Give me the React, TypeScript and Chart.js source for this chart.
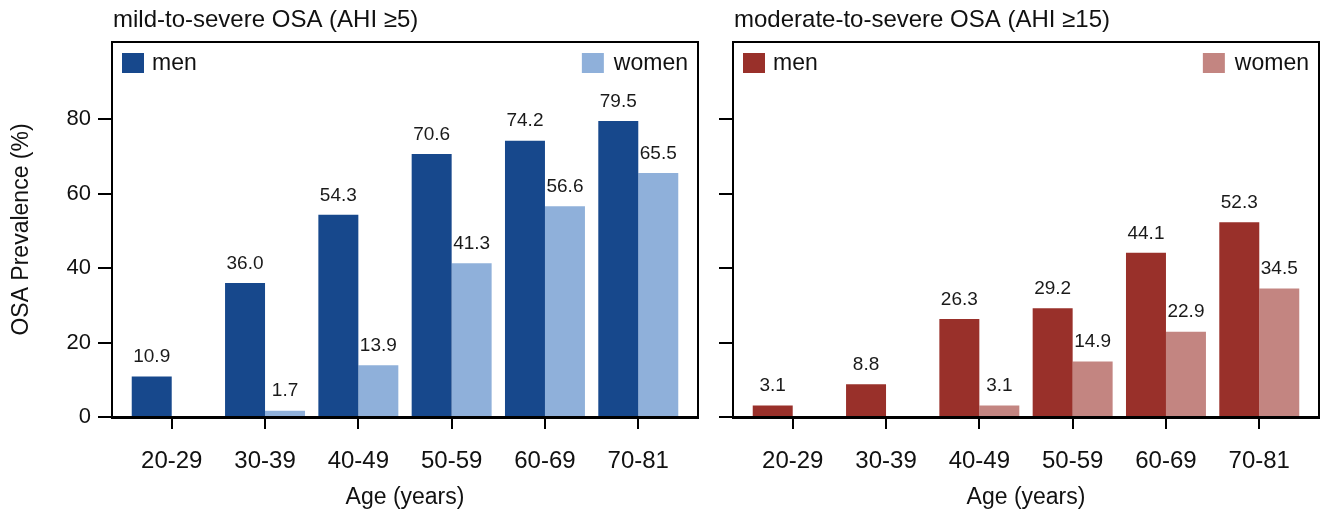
import { useEffect, useRef } from "react";
import { Chart, registerables } from "chart.js";

Chart.register(...registerables);

const FONT = '"Liberation Sans", Arial, sans-serif';

const categories = ["20-29", "30-39", "40-49", "50-59", "60-69", "70-81"];
const seriesLabels = ["men", "women"];
const mildMen: (number | null)[] = [10.9, 36.0, 54.3, 70.6, 74.2, 79.5];
const mildWomen: (number | null)[] = [null, 1.7, 13.9, 41.3, 56.6, 65.5];
const modMen: (number | null)[] = [3.1, 8.8, 26.3, 29.2, 44.1, 52.3];
const modWomen: (number | null)[] = [null, null, 3.1, 14.9, 22.9, 34.5];
const yTickValues = [0, 20, 40, 60, 80];
const mildTitle = "mild-to-severe OSA (AHI \u22655)";
const modTitle = "moderate-to-severe OSA (AHI \u226515)";
const yAxisTitle = "OSA Prevalence (%)";
const xAxisTitle = "Age (years)";

const decorPlugin = {
  id: "panelDecor",
  afterDraw(chart: any) {
    const { ctx, chartArea: a } = chart;
    const o = chart.options.plugins.panelDecor;
    ctx.save();
    // box top and right edges
    ctx.strokeStyle = "#000";
    ctx.lineWidth = 2;
    ctx.beginPath();
    ctx.moveTo(a.left - 1, a.top);
    ctx.lineTo(a.right, a.top);
    ctx.lineTo(a.right, a.bottom + 1);
    ctx.stroke();

    // value labels
    ctx.fillStyle = "#1a1a1a";
    ctx.font = `19px ${FONT}`;
    ctx.textAlign = "center";
    ctx.textBaseline = "bottom";
    chart.data.datasets.forEach((ds: any, di: number) => {
      const meta = chart.getDatasetMeta(di);
      meta.data.forEach((el: any, i: number) => {
        const v = ds.data[i].y;
        if (v == null) return;
        ctx.fillText(v.toFixed(1), el.x, el.y - 10);
      });
    });

    // legend
    ctx.font = `23px ${FONT}`;
    ctx.textBaseline = "middle";
    const ly = a.top + 21;
    const d0 = chart.data.datasets[0];
    const d1 = chart.data.datasets[1];
    ctx.fillStyle = d0.backgroundColor;
    ctx.fillRect(a.left + 10, ly - 10, 22, 20);
    ctx.fillStyle = "#111";
    ctx.textAlign = "left";
    ctx.fillText(d0.label, a.left + 40, ly + 1);
    ctx.textAlign = "right";
    const tr = a.right - 10;
    ctx.fillText(d1.label, tr, ly + 1);
    const tw = ctx.measureText(d1.label).width;
    ctx.fillStyle = d1.backgroundColor;
    ctx.fillRect(tr - tw - 10 - 22, ly - 10, 22, 20);

    // panel title
    ctx.fillStyle = "#111";
    ctx.font = `24px ${FONT}`;
    ctx.textAlign = "left";
    ctx.textBaseline = "middle";
    ctx.fillText(o.title, a.left + 1, 20);
    ctx.restore();
  },
};

type PanelProps = {
  title: string;
  men: (number | null)[];
  women: (number | null)[];
  menColor: string;
  womenColor: string;
  showYLabels: boolean;
  width: number;
  left: number;
  yAxisWidth: number;
  rightPad: number;
};

function Panel(p: PanelProps) {
  const ref = useRef<HTMLCanvasElement | null>(null);
  useEffect(() => {
    if (!ref.current) return;
    const chart = new Chart(ref.current, {
      type: "bar",
      data: {
        datasets: [
          {
            label: seriesLabels[0],
            data: p.men.map((v, i) => ({ x: i, y: v })) as any,
            backgroundColor: p.menColor,
            borderWidth: 0,
            categoryPercentage: 0.857,
            barPercentage: 1,
          },
          {
            label: seriesLabels[1],
            data: p.women.map((v, i) => ({ x: i, y: v })) as any,
            backgroundColor: p.womenColor,
            borderWidth: 0,
            categoryPercentage: 0.857,
            barPercentage: 1,
          },
        ],
      },
      plugins: [decorPlugin as any],
      options: {
        responsive: false,
        animation: false,
        devicePixelRatio: 1,
        layout: { padding: { left: 0, top: 42, right: p.rightPad, bottom: 0 } },
        plugins: {
          legend: { display: false },
          tooltip: { enabled: false },
          title: { display: false },
          panelDecor: { title: p.title },
        } as any,
        scales: {
          x: {
            type: "linear",
            min: -0.64,
            max: 5.64,
            offset: false,
            bounds: "data",
            z: 1,
            afterBuildTicks: (s: any) => {
              s.ticks = categories.map((_, i) => ({ value: i }));
            },
            afterFit: (s: any) => {
              s.height = 98;
            },
            grid: {
              offset: false,
              drawOnChartArea: false,
              drawTicks: true,
              tickLength: 12,
              tickWidth: 2,
              tickColor: "#000",
              color: "#000",
              lineWidth: 2,
            },
            border: { display: true, color: "#000", width: 3 },
            ticks: {
              autoSkip: false,
              maxRotation: 0,
              padding: 18,
              color: "#111",
              font: { family: FONT, size: 24 },
              callback: (v: any) => categories[Math.round(Number(v))] ?? "",
            },
            title: {
              display: true,
              text: xAxisTitle,
              color: "#111",
              font: { family: FONT, size: 23 },
              padding: { top: 0, bottom: 4 },
            },
          },
          y: {
            type: "linear",
            min: 0,
            max: 100.7,
            afterBuildTicks: (s: any) => {
              s.ticks = yTickValues.map((v) => ({ value: v }));
            },
            afterFit: (s: any) => {
              s.width = p.yAxisWidth;
            },
            grid: {
              drawOnChartArea: false,
              drawTicks: true,
              tickLength: 14,
              tickWidth: 2,
              tickColor: "#000",
              color: "#000",
              lineWidth: 2,
            },
            border: { display: true, color: "#000", width: 2 },
            ticks: {
              padding: 7,
              color: p.showYLabels ? "#111" : "rgba(0,0,0,0)",
              font: { family: FONT, size: 22 },
              callback: (v: any) => String(v),
            },
            title: {
              display: p.showYLabels,
              text: yAxisTitle,
              color: "#111",
              font: { family: FONT, size: 23 },
              padding: { top: 8, bottom: 0 },
            },
          },
        },
      } as any,
    });
    return () => chart.destroy();
  }, []);
  return (
    <canvas
      ref={ref}
      width={p.width}
      height={515}
      style={{ position: "absolute", left: p.left, top: 0, width: p.width, height: 515 }}
    />
  );
}

export default function App() {
  return (
    <div
      style={{
        position: "fixed",
        left: 0,
        top: 0,
        width: 1322,
        height: 515,
        background: "#fff",
        overflow: "hidden",
      }}
    >
      <Panel
        title={mildTitle}
        men={mildMen}
        women={mildWomen}
        menColor="#17488C"
        womenColor="#8FB0DA"
        showYLabels={true}
        width={716}
        left={0}
        yAxisWidth={112}
        rightPad={18}
      />
      <Panel
        title={modTitle}
        men={modMen}
        women={modWomen}
        menColor="#99302A"
        womenColor="#C38581"
        showYLabels={false}
        width={606}
        left={716}
        yAxisWidth={17}
        rightPad={3}
      />
    </div>
  );
}
